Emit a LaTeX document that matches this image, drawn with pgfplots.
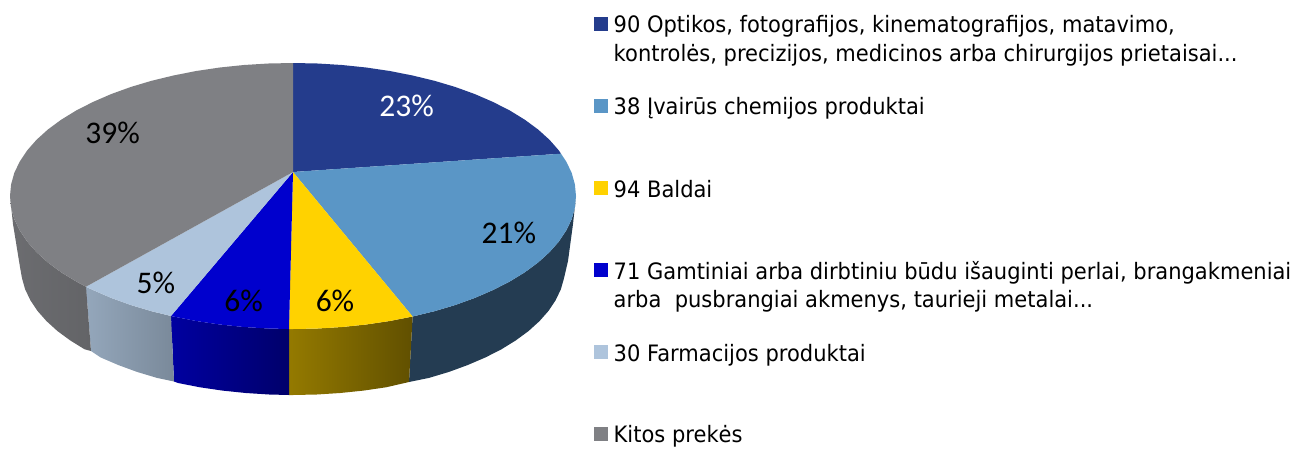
\documentclass[border=0pt]{standalone}
\usepackage{fontspec}
\setmainfont[FakeStretch=0.93]{DejaVu Sans}
\newfontfamily\lab{Carlito}
\usepackage{pgfplots}
\pgfplotsset{compat=1.18}
\definecolor{c1}{HTML}{243C8C}
\definecolor{c2}{HTML}{5A96C6}
\definecolor{c3}{HTML}{FFD200}
\definecolor{c4}{HTML}{0000CD}
\definecolor{c5}{HTML}{AEC4DC}
\definecolor{c6}{HTML}{7F8084}
\definecolor{s2}{HTML}{243C52}
\newcommand{\lgd}[2]{\node[anchor=base west,inner sep=0pt,text=black,font=\fontsize{22.6}{23}\selectfont] at (axis cs:613.5,#1) {#2};}
\newcommand{\pct}[4][black]{\node[anchor=base,inner sep=0pt,text=#1,font=\lab\fontsize{31.5}{31.5}\selectfont] at (axis cs:#2,#3) {#4};}
\begin{document}
\begin{tikzpicture}
\begin{axis}[
  scale only axis,width=1303pt,height=448pt,
  xmin=0,xmax=1303,ymin=0,ymax=448,y dir=reverse,
  hide axis,clip=false]
\path (rel axis cs:0,0) (rel axis cs:1,1);
% --- side walls
\addplot[draw=none,fill=s2] coordinates {(412.6,316.5)(434.5,311.2)(455.3,305)(474.9,297.9)(493.1,290)(509.8,281.5)(524.8,272.3)(538.1,262.5)(549.5,252.2)(558.9,241.5)(566.3,230.4)(571.7,219.1)(574.9,207.6)(576,196)(573,224)(568,261)(564,278.2)(560.9,289.2)(555.7,300.1)(548.6,310.8)(539.5,321.1)(528.6,331)(515.8,340.4)(501.4,349.3)(485.3,357.5)(467.8,365)(449,371.9)(429,377.9)(409,382)} --cycle;
\addplot[draw=none,left color=c3!58!black,right color=c3!38!black] coordinates {(289,329)(293,329)(317.7,328.5)(342.1,327)(366.2,324.5)(389.8,321)(412.6,316.5)(409,382)(386,387.3)(363.4,390.6)(340.2,393)(316.7,394.5)(293,395)(289,395)} --cycle;
\addplot[draw=none,left color=c4!78!black,right color=c4!52!black] coordinates {(171,316)(173.4,316.5)(196.2,321)(219.8,324.5)(243.9,327)(268.3,328.5)(289,329)(289,395)(269.3,394.5)(245.8,393)(222.6,390.6)(200,387.3)(178.1,383)(174,381.5)} --cycle;
\addplot[draw=none,left color=c5!85!black,right color=c5!70!black] coordinates {(86,286.7)(92.9,290)(111.1,297.9)(130.7,305)(151.5,311.2)(171,316)(174,381.5)(157,377.9)(137,371.9)(118.2,365)(100.7,357.5)(91,351)} --cycle;
\addplot[draw=none,left color=c6!85!black,middle color=c6!92!black,right color=c6!78!black] coordinates {(10,196)(11.1,207.6)(14.3,219.1)(19.7,230.4)(27.1,241.5)(36.5,252.2)(47.9,262.5)(61.2,272.3)(76.2,281.5)(86,286.7)(91,351)(84.6,349.3)(70.2,340.4)(57.4,331)(46.5,321.1)(37.4,310.8)(30.3,300.1)(25.1,289.2)(22,278.2)(20,267)(13,224)} --cycle;
% --- top faces
\addplot[draw=none,fill=c1] coordinates {(293,172)(293,63)(317.7,63.5)(342.1,65)(366.2,67.5)(389.8,71)(412.6,75.5)(434.5,80.8)(455.3,87)(474.9,94.1)(493.1,102)(509.8,110.5)(524.8,119.7)(538.1,129.5)(549.5,139.8)(558.9,150.5)(561,153.7)} --cycle;
\addplot[draw=none,fill=c2] coordinates {(293,172)(561,153.7)(566.3,161.6)(571.7,172.9)(574.9,184.4)(576,196)(574.9,207.6)(571.7,219.1)(566.3,230.4)(558.9,241.5)(549.5,252.2)(538.1,262.5)(524.8,272.3)(509.8,281.5)(493.1,290)(474.9,297.9)(455.3,305)(434.5,311.2)(412.6,316.5)} --cycle;
\addplot[draw=none,fill=c3] coordinates {(293,172)(412.6,316.5)(389.8,321)(366.2,324.5)(342.1,327)(317.7,328.5)(293,329)(289,329)} --cycle;
\addplot[draw=none,fill=c4] coordinates {(293,172)(289,329)(268.3,328.5)(243.9,327)(219.8,324.5)(196.2,321)(173.4,316.5)(171,316)} --cycle;
\addplot[draw=none,fill=c5] coordinates {(293,172)(171,316)(151.5,311.2)(130.7,305)(111.1,297.9)(92.9,290)(86,286.7)} --cycle;
\addplot[draw=none,fill=c6] coordinates {(293,172)(86,286.7)(76.2,281.5)(61.2,272.3)(47.9,262.5)(36.5,252.2)(27.1,241.5)(19.7,230.4)(14.3,219.1)(11.1,207.6)(10,196)(11.1,184.4)(14.3,172.9)(19.7,161.6)(27.1,150.5)(36.5,139.8)(47.9,129.5)(61.2,119.7)(76.2,110.5)(92.9,102)(111.1,94.1)(130.7,87)(151.5,80.8)(173.4,75.5)(196.2,71)(219.8,67.5)(243.9,65)(268.3,63.5)(293,63)} --cycle;
% --- legend swatches
\addplot[draw=none,fill=c1] coordinates {(594,17)(608,17)(608,31)(594,31)} --cycle;
\addplot[draw=none,fill=c2] coordinates {(594,99)(608,99)(608,113)(594,113)} --cycle;
\addplot[draw=none,fill=c3] coordinates {(594,181)(608,181)(608,195)(594,195)} --cycle;
\addplot[draw=none,fill=c4] coordinates {(594,263)(608,263)(608,277)(594,277)} --cycle;
\addplot[draw=none,fill=c5] coordinates {(594,345)(608,345)(608,359)(594,359)} --cycle;
\addplot[draw=none,fill=c6] coordinates {(594,427)(608,427)(608,441)(594,441)} --cycle;
% --- legend text
\lgd{32.3}{90 Optikos, fotografijos, kinematografijos, matavimo,}
\lgd{61}{kontrolės, precizijos, medicinos arba chirurgijos prietaisai...}
\lgd{114}{38 Įvairūs chemijos produktai}
\lgd{197}{94 Baldai}
\lgd{279}{71 Gamtiniai arba dirbtiniu būdu išauginti perlai, brangakmeniai}
\lgd{307.5}{arba\ \ pusbrangiai akmenys, taurieji metalai...}
\lgd{361}{30 Farmacijos produktai}
\lgd{442}{Kitos prekės}
% --- percent labels
\pct[white]{406.6}{116.7}{23\%}
\pct{508.8}{243}{21\%}
\pct{335}{311.3}{6\%}
\pct{243.7}{311.3}{6\%}
\pct{155.8}{293.3}{5\%}
\pct{112.7}{143.3}{39\%}
\end{axis}
\end{tikzpicture}
\end{document}
